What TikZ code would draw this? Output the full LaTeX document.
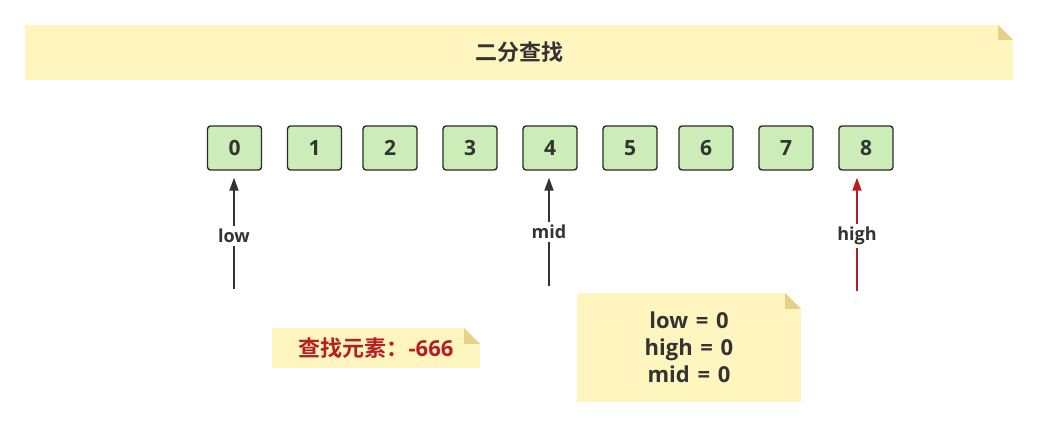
\documentclass[tikz,border=0pt]{standalone}
\usepackage{fontspec}
\setmainfont{Open Sans}
\newfontfamily\cjk{Noto Sans CJK SC}[BoldFont={* Bold}]
\usetikzlibrary{arrows.meta}
\newcommand\mywidesp{\spaceskip 0.35em\relax}
\definecolor{notefill}{HTML}{FFF5BF}
\definecolor{foldc}{HTML}{E6D08A}
\definecolor{boxfill}{HTML}{CCEDB7}
\definecolor{boxline}{HTML}{2B2B2B}
\definecolor{txt}{HTML}{333333}
\definecolor{redc}{HTML}{B51F24}
\tikzset{
  notebox/.style={fill=notefill, draw=none, inner sep=0pt, text=txt,
    font=\bfseries\fontsize{22}{27}\selectfont\mywidesp, align=center,
    path picture={
      \fill[white] ([xshift=-#1]path picture bounding box.north east) -- (path picture bounding box.north east) -- ([yshift=-#1]path picture bounding box.north east) -- cycle;
      \fill[foldc] ([xshift=-#1]path picture bounding box.north east) -- ([xshift=-#1,yshift=-#1]path picture bounding box.north east) -- ([yshift=-#1]path picture bounding box.north east) -- cycle;
    }},
  notebox/.default=16pt,
  cell/.style={draw=boxline, line width=1.4pt, fill=boxfill, rounded corners=3pt,
    minimum width=54pt, minimum height=44pt, inner sep=0pt, text=txt,
    font=\bfseries\fontsize{21}{21}\selectfont},
  ptr/.style={line width=1.8pt, -{Triangle[length=13pt,width=9pt]}, shorten >=7pt},
  ptrlabel/.style={fill=white, inner sep=3pt, text=txt, font=\bfseries\fontsize{18}{18}\selectfont}
}
\begin{document}
\begin{tikzpicture}[x=1pt,y=-1pt]
\useasboundingbox (0,0) rectangle (1039,427);
\node[notebox=15pt, minimum width=988pt, minimum height=55pt, font=\cjk\bfseries\fontsize{22}{22}\selectfont] (title) at (519,52.5) {二分查找};
\foreach \i/\x in {0/234.5,1/314.5,2/390,3/470,4/550,5/630,6/706,7/786,8/866}{
  \node[cell] (b\i) at (\x,148) {\i};
}
\coordinate (lc) at (234,289);
\coordinate (mc) at (549,286);
\coordinate (hc) at (857,291);
\draw[ptr, draw=txt, color=txt] (lc) -- (lc |- b0.south) node[pos=0.45, ptrlabel] (ll) {low};
\draw[ptr, draw=txt, color=txt] (mc) -- (mc |- b4.south) node[pos=0.47, ptrlabel] (ml) {mid};
\draw[ptr, draw=redc, color=redc] (hc) -- (hc |- b8.south) node[pos=0.46, ptrlabel] (hl) {high};
\node[notebox, minimum width=208pt, minimum height=40pt, text=redc] (target) at (376,348) {{\cjk\bfseries 查找元素：}-666};
\node[notebox, minimum width=224pt, minimum height=109pt] (state) at (689,347.5) {low = 0\\high = 0\\mid = 0};
\end{tikzpicture}
\end{document}
